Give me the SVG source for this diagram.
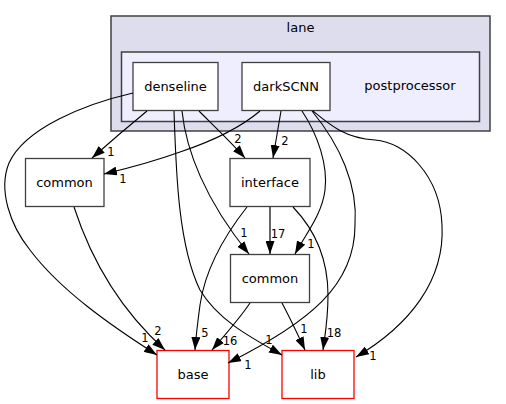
<svg xmlns="http://www.w3.org/2000/svg" width="506" height="404" viewBox="0 0 506 404">
<style>
text { font-family: "DejaVu Sans", "Liberation Sans", sans-serif; fill: #000; }
.nt { font-size: 13px; text-anchor: middle; }
.el { font-size: 11.5px; text-anchor: middle; }
.node { fill: #ffffff; stroke: #404040; stroke-width: 1.3; }
.ext { fill: #ffffff; stroke: #ff0000; stroke-width: 1.3; }
.edge { fill: none; stroke: #000; stroke-width: 1.1; marker-end: url(#arr); }
.heavy { stroke: #404040; stroke-width: 1.6; }
</style>
<defs>
<marker id="arr" markerUnits="userSpaceOnUse" markerWidth="13" markerHeight="9" refX="13" refY="4.5" orient="auto" viewBox="0 0 13 9">
<path d="M0,0 L13,4.5 L0,9 z" fill="#000"/>
</marker>
</defs>
<rect width="506" height="404" fill="#ffffff"/>
<g id="cluster-lane">
<rect x="111" y="16" width="379" height="115" fill="#ddddee" stroke="#404040" stroke-width="1.5"/>
<text class="nt" x="300.5" y="32">lane</text>
</g>
<g id="cluster-postprocessor">
<rect x="121.5" y="52" width="358" height="69.5" fill="#eeeeff" stroke="#404040" stroke-width="1.5"/>
<text class="nt" x="410" y="90">postprocessor</text>
</g>
<g id="node-denseline">
<rect class="node" x="133" y="62.5" width="85" height="48"/>
<text class="nt" x="175.5" y="90.5">denseline</text>
</g>
<g id="node-darkSCNN">
<rect class="node" x="242" y="62.5" width="88" height="48"/>
<text class="nt" x="286" y="90.5">darkSCNN</text>
</g>
<g id="node-common-left">
<rect class="node" x="25.5" y="158.5" width="78.5" height="48"/>
<text class="nt" x="64.5" y="186.5">common</text>
</g>
<g id="node-interface">
<rect class="node" x="230" y="158.5" width="80" height="48"/>
<text class="nt" x="270" y="186.5">interface</text>
</g>
<g id="node-common-mid">
<rect class="node" x="230.5" y="254.5" width="79" height="48"/>
<text class="nt" x="270" y="282.5">common</text>
</g>
<g id="node-base">
<rect class="ext" x="157" y="350.5" width="72" height="48"/>
<text class="nt" x="193" y="378.5">base</text>
</g>
<g id="node-lib">
<rect class="ext" x="282" y="350.5" width="72" height="48"/>
<text class="nt" x="318" y="378.5">lib</text>
</g>
<g id="connectors">
<path class="edge" d="M133,93 C85,104 25,128 9,163 C-2,190 10,225 30,250 C60,290 110,325 157,355"/>
<text class="el" x="145" y="342">1</text>
<path class="edge" d="M147,111 C130,125 110,142 92,158"/>
<text class="el" x="111" y="156">1</text>
<path class="edge" d="M199,111 C213,125 230,141 245,158"/>
<text class="el" x="238" y="143">2</text>
<path class="edge" d="M182,111 C186,150 205,200 249,254"/>
<text class="el" x="244" y="237">1</text>
<path class="edge" d="M174,111 C176,170 178,245 200,290 C218,320 250,337 282,355"/>
<text class="el" x="269" y="344">1</text>
<path class="edge" d="M260,111 C240,128 210,142 180,152 C155,161 125,169 104,174"/>
<text class="el" x="123" y="183">1</text>
<path class="edge" d="M281,111 L273,158"/>
<text class="el" x="285" y="145">2</text>
<path class="edge" d="M302,111 C318,135 328,165 325,190 C322,215 305,235 295,254"/>
<text class="el" x="311" y="248">1</text>
<path class="edge" d="M312,111 C340,145 358,185 355,225 C355,285 310,322 228,363"/>
<text class="el" x="248" y="369">1</text>
<path class="edge" d="M313,111 C330,125 345,138 375,140 C405,142 440,175 442,225 C445,280 410,325 356,357"/>
<text class="el" x="373" y="360">1</text>
<path class="edge heavy" d="M270,207 L270,254"/>
<text class="el" x="278" y="238">17</text>
<path class="edge" d="M247,207 C225,235 205,270 200,305 C198,320 196,335 195,350"/>
<text class="el" x="205" y="337">5</text>
<path class="edge" d="M293,207 C315,230 328,260 328,295 C328,320 325,335 323,350"/>
<text class="el" x="334" y="337">18</text>
<path class="edge" d="M74,207 C88,250 115,305 165,350"/>
<text class="el" x="158" y="335">2</text>
<path class="edge" d="M250,303 C240,318 225,335 212,350"/>
<text class="el" x="230" y="345">16</text>
<path class="edge" d="M282,303 C290,318 298,335 305,350"/>
<text class="el" x="304" y="333">1</text>
</g>
</svg>
